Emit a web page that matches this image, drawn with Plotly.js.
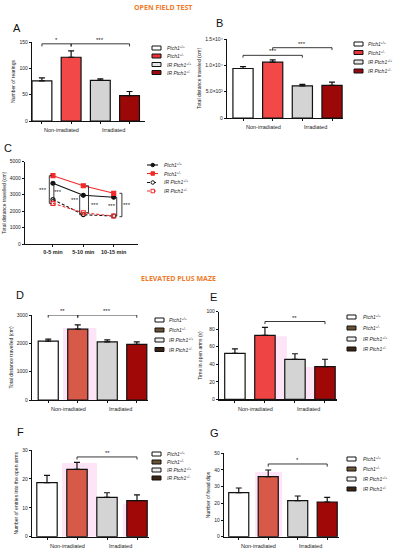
<!DOCTYPE html>
<html><head><meta charset="utf-8">
<script src="https://cdn.plot.ly/plotly-3.0.1.min.js"></script>
<style>html,body{margin:0;padding:0;background:#fff}#chart{width:393px;height:550px}</style>
</head><body><div id="chart"></div>
<script>
// ---------- DATA ----------
const groups = ['Ptch1+/+', 'Ptch1+/-', 'IR Ptch1+/+', 'IR Ptch1+/-'];
const legendLabels = ['<i>Ptch1</i><sup>+/+</sup>', '<i>Ptch1</i><sup>+/-</sup>', '<i>IR Ptch1</i><sup>+/+</sup>', '<i>IR Ptch1</i><sup>+/-</sup>'];
const conditionLabels = ['Non-irradiated', 'Irradiated'];

const rearings = [76, 121, 77, 48];
const rearingsSem = [6, 12, 3, 8];

const distanceOF = [9400, 10600, 6100, 6200];
const distanceOFSem = [350, 450, 300, 620];

const timeBins = ['0-5 min', '5-10 min', '10-15 min'];
const binWT = [3690, 2960, 2840];
const binHet = [4150, 3540, 3080];
const binIrWT = [2700, 1780, 1700];
const binIrHet = [2470, 1900, 1700];

const distanceEPM = [2080, 2500, 2050, 1965];
const distanceEPMSem = [70, 150, 70, 85];

const timeOpenArms = [52.5, 73, 45.5, 37.2];
const timeOpenArmsSem = [5, 9, 6.5, 8.5];

const entriesOpenArms = [18.7, 23.3, 13.6, 12.5];
const entriesOpenArmsSem = [2.5, 2.4, 1.6, 2.0];

const headDips = [26.4, 36, 21.6, 20.8];
const headDipsSem = [2.8, 4, 2.8, 2.8];

// ---------- helpers ----------
const W = 393, H = 550;
const fx = p => p / W;
const fy = p => 1 - p / H;
const FONT = 'Liberation Sans, Arial, sans-serif';
const pos = [0, 1, 2, 3];

const colsOF = ['#ffffff', '#f24848', '#d4d4d4', '#9c0808'];
const colsEPM = ['#ffffff', '#d65a47', '#d4d4d4', '#a00808'];
const colsE = ['#ffffff', '#ee4444', '#d4d4d4', '#a00808'];
const legOF = ['#ffffff', '#e8333a', '#e6e6e6', '#9c0810'];
const legEPM = ['#ffffff', '#6b5232', '#eeeeee', '#3a2414'];

const traces = [];
const shapes = [];
const annotations = [];
const layout = {
  width: W, height: H, margin: {l: 0, r: 0, t: 0, b: 0},
  paper_bgcolor: '#fff', plot_bgcolor: 'rgba(0,0,0,0)',
  showlegend: false, font: {family: FONT, size: 5, color: '#222'},
  shapes: shapes, annotations: annotations
};

function axes(n, xd, yd, xrange, yrange, ytickvals, yticktext, ytitle, xtick) {
  const xs = n === 1 ? 'xaxis' : 'xaxis' + n;
  const ys = n === 1 ? 'yaxis' : 'yaxis' + n;
  const xa = {
    domain: [fx(xd[0]), fx(xd[1])], range: xrange, anchor: 'y' + (n === 1 ? '' : n),
    showline: true, linecolor: '#111', linewidth: 1.2, showgrid: false, zeroline: false,
    ticks: 'outside', ticklen: 2, tickcolor: '#111', tickwidth: 1,
    tickmode: 'array', tickvals: xtick ? xtick.vals : pos,
    showticklabels: !!xtick, tickfont: {size: 5.5, family: FONT, color: '#222'}
  };
  if (xtick) xa.ticktext = xtick.text;
  layout[xs] = xa;
  const ya = {
    domain: [fy(yd[1]), fy(yd[0])], range: yrange, anchor: 'x' + (n === 1 ? '' : n),
    showline: true, linecolor: '#111', linewidth: 1.2, showgrid: false, zeroline: false,
    ticks: 'outside', ticklen: 2, tickcolor: '#111', tickwidth: 1,
    tickmode: 'array', tickvals: ytickvals,
    tickfont: {size: 5, family: FONT, color: '#222'},
    title: {text: ytitle, font: {size: 5, family: FONT, color: '#222'}, standoff: 3}
  };
  if (yticktext) ya.ticktext = yticktext;
  layout[ys] = ya;
}

function bars(n, vals, sem, cols) {
  const xa = 'x' + (n === 1 ? '' : n), ya = 'y' + (n === 1 ? '' : n);
  traces.push({
    type: 'bar', x: pos, y: vals, width: 0.68, xaxis: xa, yaxis: ya,
    marker: {color: cols, line: {color: '#111', width: 1.2}},
    error_y: {type: 'data', array: sem, arrayminus: sem.map(() => 0), symmetric: false,
      color: '#111', thickness: 1.2, width: 3},
    hoverinfo: 'skip', name: 'bars' + n
  });
}

function bracket(n, x1, x2, y, drop, label) {
  const xa = 'x' + (n === 1 ? '' : n), ya = 'y' + (n === 1 ? '' : n);
  shapes.push({type: 'path', xref: xa, yref: ya,
    path: `M ${x1},${y - drop} L ${x1},${y} L ${x2},${y} L ${x2},${y - drop}`,
    line: {color: '#222', width: 0.9}});
  annotations.push({xref: xa, yref: ya, x: (x1 + x2) / 2, y: y, yanchor: 'bottom', yshift: -1,
    text: label, showarrow: false, font: {size: 6, family: FONT, color: '#222'}});
}

function condLabels(n, ypx) {
  const xa = 'x' + (n === 1 ? '' : n);
  const xs = [0.68, 2.45];
  conditionLabels.forEach((t, i) => {
    annotations.push({xref: xa, yref: 'paper', x: xs[i], y: fy(ypx), yanchor: 'top', xanchor: 'center',
      text: t, showarrow: false, font: {size: 5.5, family: FONT, color: '#222'}});
  });
}

function barLegend(sx, tx, rows, cols) {
  rows.forEach((ry, i) => {
    shapes.push({type: 'rect', xref: 'paper', yref: 'paper', x0: fx(sx), x1: fx(sx + 9),
      y0: fy(ry + 2), y1: fy(ry - 2), fillcolor: cols[i], line: {color: '#111', width: 1}});
    annotations.push({xref: 'paper', yref: 'paper', x: fx(tx), y: fy(ry), xanchor: 'left',
      yanchor: 'middle', text: legendLabels[i], showarrow: false,
      font: {size: 5, family: FONT, color: '#222'}});
  });
}

function panelLabel(t, x, y) {
  annotations.push({xref: 'paper', yref: 'paper', x: fx(x), y: fy(y), text: t, showarrow: false,
    xanchor: 'center', yanchor: 'middle', font: {size: 11, family: FONT, color: '#111'}});
}

function pink(n, x0, x1, y1) {
  const xa = 'x' + (n === 1 ? '' : n), ya = 'y' + (n === 1 ? '' : n);
  shapes.push({type: 'rect', xref: xa, yref: ya, x0: x0, x1: x1, y0: 0, y1: y1,
    fillcolor: '#fde4f6', line: {width: 0}, layer: 'below'});
}

// ---------- section titles ----------
annotations.push({xref: 'paper', yref: 'paper', x: fx(163), y: fy(8), yanchor: 'middle', text: '<b>OPEN FIELD TEST</b>',
  showarrow: false, font: {size: 7, family: 'Open Sans, Liberation Sans, sans-serif', color: '#f07a2a'}});
annotations.push({xref: 'paper', yref: 'paper', x: fx(178), y: fy(278), yanchor: 'middle', text: '<b>ELEVATED PLUS MAZE</b>',
  showarrow: false, font: {size: 7, family: 'Open Sans, Liberation Sans, sans-serif', color: '#f07a2a'}});

// ---------- A ----------
axes(1, [32, 145], [42, 121], [-0.34, 3.53], [0, 150], [0, 50, 100, 150], null, 'Number of rearings');
bars(1, rearings, rearingsSem, colsOF);
bracket(1, 0, 1, 146.5, 5, '*');
bracket(1, 1, 3, 146.5, 5, '***');
condLabels(1, 125);
barLegend(152, 165, [48, 56, 64.5, 72.5], legOF);
panelLabel('A', 17, 28);

// ---------- B ----------
axes(2, [227, 343], [39, 118], [-0.54, 3.37], [0, 15000], [0, 5000, 10000, 15000],
  ['0', '5.0×10³', '1.0×10⁴', '1.5×10⁴'], 'Total distance traveled (cm)');
bars(2, distanceOF, distanceOFSem, colsOF);
bracket(2, 0, 2, 11900, 450, '***');
bracket(2, 1, 3, 13350, 450, '***');
condLabels(2, 122);
barLegend(354, 366, [44, 52.5, 62, 71], legOF);
panelLabel('B', 219, 23);

// ---------- C ----------
axes(3, [25, 138], [161.7, 244], [-0.92, 2.8], [0, 5000], [0, 1000, 2000, 3000, 4000, 5000], null,
  'Total distance travelled (cm)', {vals: [0, 1, 2], text: timeBins.map(t => '<b>' + t + '</b>')});
const lineSeries = [
  [binWT, '#111', 'circle', 'solid'],
  [binHet, '#f22a2a', 'square', 'solid'],
  [binIrWT, '#111', 'circle-open', 'dash'],
  [binIrHet, '#f22a2a', 'square-open', 'dash']
];
lineSeries.forEach(([vals, c, sym, dash], i) => {
  traces.push({type: 'scatter', mode: 'lines+markers', x: [0, 1, 2], y: vals, xaxis: 'x3', yaxis: 'y3',
    line: {color: c, width: 1.1, dash: dash === 'dash' ? '3px,2px' : 'solid'},
    marker: {symbol: sym, size: 4, color: c, line: {color: c, width: 1.2}},
    name: groups[i], hoverinfo: 'skip'});
});
function vbracket(x, y1, y2, dir, lx, ly) {
  shapes.push({type: 'path', xref: 'x3', yref: 'y3',
    path: `M ${x + dir},${y1} L ${x},${y1} L ${x},${y2} L ${x + dir},${y2}`,
    line: {color: '#222', width: 0.9}});
  annotations.push({xref: 'x3', yref: 'y3', x: lx, y: ly, text: '***', showarrow: false,
    font: {size: 6, family: FONT, color: '#222'}});
}
vbracket(-0.12, 4150, 2470, 0.08, -0.33, 3300);
vbracket(0.03, 3690, 2700, -0.06, 0.17, 3180);
vbracket(0.88, 2960, 1780, 0.08, 0.72, 2650);
vbracket(1.17, 3540, 1900, -0.08, 1.38, 2380);
vbracket(2.1, 2840, 1700, -0.06, 1.94, 2310);
vbracket(2.27, 3080, 1660, -0.08, 2.45, 2370);
// legend C
const legCRows = [165, 173.5, 182.5, 191];
lineSeries.forEach(([vals, c, sym, dash], i) => {
  const ry = legCRows[i];
  shapes.push({type: 'line', xref: 'paper', yref: 'paper', x0: fx(147), x1: fx(158), y0: fy(ry), y1: fy(ry),
    line: {color: c, width: 1.1, dash: dash === 'dash' ? 'dot' : 'solid'}});
  const open = sym.indexOf('open') > 0;
  shapes.push({type: sym.indexOf('circle') === 0 ? 'circle' : 'rect', xref: 'paper', yref: 'paper',
    x0: fx(151), x1: fx(154.5), y0: fy(ry + 1.75), y1: fy(ry - 1.75),
    fillcolor: open ? '#fff' : c, line: {color: c, width: 1}});
  annotations.push({xref: 'paper', yref: 'paper', x: fx(162), y: fy(ry), xanchor: 'left', yanchor: 'middle',
    text: legendLabels[i], showarrow: false, font: {size: 5, family: FONT, color: '#222'}});
});
panelLabel('C', 8, 148);

// ---------- D ----------
axes(4, [32, 148], [315, 400], [-0.55, 3.38], [0, 3000], [0, 1000, 2000, 3000], null, 'Total distance travelled (cm)');
pink(4, 0.5, 1.63, 2540);
bars(4, distanceEPM, distanceEPMSem, colsEPM);
bracket(4, 0, 1, 3000, 95, '**');
bracket(4, 1, 3, 3000, 95, '***');
condLabels(4, 404);
barLegend(155, 167, [320, 330, 340, 349.5], legEPM);
panelLabel('D', 20, 295);

// ---------- E ----------
axes(5, [219, 337], [311.7, 399.3], [-0.53, 3.4], [0, 100], [0, 20, 40, 60, 80, 100], null, 'Time in open arms (s)');
pink(5, 0.67, 1.73, 72);
pink(5, 2.3, 3.33, 37);
bars(5, timeOpenArms, timeOpenArmsSem, colsE);
bracket(5, 1, 3, 88.8, 3, '**');
condLabels(5, 403.5);
barLegend(347, 361, [317, 328, 339, 349], legEPM);
panelLabel('E', 213, 297);

// ---------- F ----------
axes(6, [32, 149], [450, 536.7], [-0.5, 3.4], [0, 30], [0, 10, 20, 30], null, 'Number of entries into the open arms');
pink(6, 0.5, 1.67, 25.5);
pink(6, 2.53, 3.33, 11.3);
bars(6, entriesOpenArms, entriesOpenArmsSem, colsEPM);
bracket(6, 1, 3, 27.6, 0.9, '**');
condLabels(6, 541);
barLegend(152, 165, [454, 462, 470, 478], legEPM);
panelLabel('F', 20, 432);

// ---------- G ----------
axes(7, [224, 339], [453.3, 536.7], [-0.5, 3.4], [0, 50], [0, 10, 20, 30, 40, 50], null, 'Number of head dips');
pink(7, 0.56, 1.47, 38.8);
bars(7, headDips, headDipsSem, colsEPM);
bracket(7, 1, 3, 43.6, 1.6, '*');
condLabels(7, 541);
barLegend(347, 361, [459, 469, 479, 489], legEPM);
panelLabel('G', 215, 433);

Plotly.newPlot('chart', traces, layout, {staticPlot: true, displayModeBar: false});
</script>
</body></html>
